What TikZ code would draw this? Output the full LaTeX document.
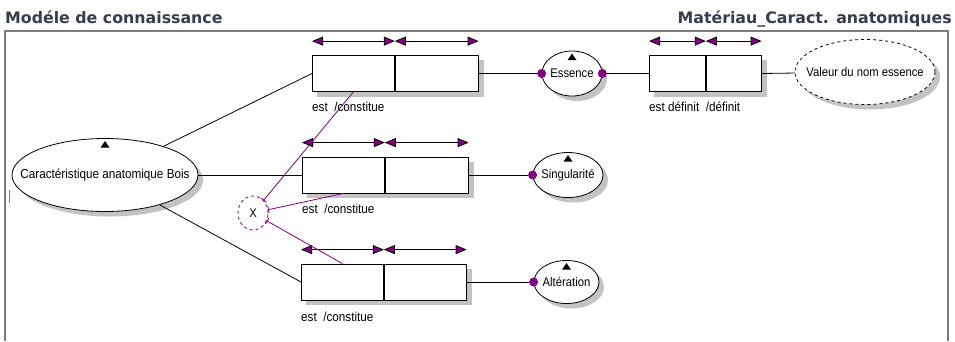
\documentclass[tikz,border=0pt]{standalone}
\usepackage{fontspec}
\setmainfont{Liberation Sans}[FakeStretch=0.9]
\newfontfamily\titlefont{DejaVu Sans}
\usetikzlibrary{shapes.geometric,arrows.meta,backgrounds}
\definecolor{violetd}{RGB}{128,0,128}
\definecolor{framegray}{RGB}{125,125,125}
\definecolor{titlecol}{RGB}{55,60,78}
\definecolor{shadowc}{RGB}{195,195,195}
\newcommand\enttri[1]{\fill ([yshift=-3pt]#1.north) -- ++(-4.5,6.5) -- ++(9,0) -- cycle;}
\newcommand\entshadow[3]{\fill[shadowc] ([shift={(5pt,-5pt)}]#1.center) ellipse [x radius=#2, y radius=#3];}
\newcommand\boxshadow[2]{\fill[shadowc] ([shift={(5pt,-5pt)}]#1.north west) rectangle ([shift={(5pt,-5pt)}]#2.south east);}
\begin{document}
\begin{tikzpicture}[x=1pt,y=-1pt,
  font=\fontsize{12.5}{14}\selectfont,
  entity/.style={ellipse,draw,fill=white,inner sep=0pt,line width=0.8pt},
  relbox/.style={rectangle,draw,fill=white,inner sep=0pt,minimum height=36pt,anchor=west,line width=0.8pt},
  lnk/.style={draw,line width=0.8pt},
  xlnk/.style={draw=violetd,line width=0.8pt,-{Bar[width=7pt,line width=0.8pt]}},
  pairarrow/.style={line width=0.8pt,{Triangle[length=11pt,width=9pt,fill=violetd]}-{Triangle[length=11pt,width=9pt,fill=violetd]}},
  pdot/.style={circle,fill=violetd,inner sep=0pt,minimum size=9pt},
  lab/.style={anchor=base west,inner sep=0pt,font=\fontsize{13}{15}\selectfont},
  headtxt/.style={font=\titlefont\bfseries\fontsize{15.8}{19}\selectfont,text=titlecol,inner sep=0pt}
]
\useasboundingbox (0,0) rectangle (955,341);

% titles and frame
\node[headtxt,anchor=base west] (t1) at (5,23) {Modéle de connaissance};
\node[headtxt,anchor=base east] (t2) at (952,23) {Matériau\_Caract. anatomiques};
\draw[framegray,line width=2.4pt] (5,341) -- (5,31) -- (948,31) -- (948,341);
\draw[gray,line width=1pt] (9,190) -- (9,203);

% entities
\node[entity,minimum width=186pt,minimum height=73pt,label={[font=\fontsize{13}{15}\selectfont]center:Caractéristique anatomique Bois}] (bois) at (105,175) {};
\node[entity,minimum width=60pt,minimum height=45pt,label={center:Essence}] (ess) at (572,73.5) {};
\node[entity,minimum width=70pt,minimum height=45pt,label={center:Singularité}] (sing) at (568,175) {};
\node[entity,minimum width=65pt,minimum height=43pt,label={center:Altération}] (alt) at (566.5,282) {};
\node[entity,dashed,minimum width=140pt,minimum height=65pt,label={center:Valeur du nom essence}] (val) at (865,72) {};
\node[ellipse,draw=violetd,dashed,line width=0.8pt,minimum width=30pt,minimum height=34pt,inner sep=0pt] (X) at (253,213) {X};

\enttri{bois}
\enttri{ess}
\enttri{sing}
\enttri{alt}

% relation boxes
\node[relbox,minimum width=82pt] (r1a) at (312,73.5) {};
\node[relbox,minimum width=83pt] (r1b) at (r1a.east) {};
\node[relbox,minimum width=82pt] (r2a) at (302,175) {};
\node[relbox,minimum width=83pt] (r2b) at (r2a.east) {};
\node[relbox,minimum width=82pt] (r4a) at (301,282) {};
\node[relbox,minimum width=82pt] (r4b) at (r4a.east) {};
\node[relbox,minimum width=56pt] (r3a) at (649,73.5) {};
\node[relbox,minimum width=55pt] (r3b) at (r3a.east) {};

% shadows
\begin{scope}[on background layer]
\entshadow{bois}{93}{36.5}
\entshadow{ess}{30}{22.5}
\entshadow{sing}{35}{22.5}
\entshadow{alt}{32.5}{21.5}
\entshadow{val}{70}{32.5}
\boxshadow{r1a}{r1b}
\boxshadow{r2a}{r2b}
\boxshadow{r4a}{r4b}
\boxshadow{r3a}{r3b}
\end{scope}

% role arrows
\draw[pairarrow] ([yshift=14pt]r1a.north west) -- ([yshift=14pt]r1a.north east);
\draw[pairarrow] ([yshift=14pt]r1b.north west) -- ([yshift=14pt]r1b.north east);
\draw[pairarrow] ([yshift=14pt]r2a.north west) -- ([yshift=14pt]r2a.north east);
\draw[pairarrow] ([yshift=14pt]r2b.north west) -- ([yshift=14pt]r2b.north east);
\draw[pairarrow] ([yshift=14pt]r4a.north west) -- ([yshift=14pt]r4a.north east);
\draw[pairarrow] ([yshift=14pt]r4b.north west) -- ([yshift=14pt]r4b.north east);
\draw[pairarrow] ([yshift=14pt]r3a.north west) -- ([yshift=14pt]r3a.north east);
\draw[pairarrow] ([yshift=14pt]r3b.north west) -- ([yshift=14pt]r3b.north east);

% labels
\node[lab] (l1) at ([yshift=-20pt]r1a.south west) {est \ /constitue};
\node[lab] (l2) at ([yshift=-20pt]r2a.south west) {est \ /constitue};
\node[lab] (l4) at ([yshift=-21pt]r4a.south west) {est \ /constitue};
\node[lab] (l3) at ([yshift=-20pt]r3a.south west) {est définit \ /définit};

% connectors
\node[pdot] (dE1) at (ess.west) {};
\node[pdot] (dE2) at (ess.east) {};
\node[pdot] (dS) at (sing.west) {};
\node[pdot] (dA) at (alt.west) {};

\draw[lnk] (bois) -- (r1a.west);
\draw[lnk] (bois) -- (r2a.west);
\draw[lnk] (bois) -- (r4a.west);
\draw[lnk] (r1b.east) -- (dE1);
\draw[lnk] (dE2) -- (r3a.west);
\draw[lnk] (r3b.east) -- (val);
\draw[lnk] (r2b.east) -- (dS);
\draw[lnk] (r4b.east) -- (dA);

\draw[xlnk] (r1a.south) -- (X);
\draw[xlnk] (r2a.south) -- (X);
\draw[xlnk] (r4a.north) -- (X);
\end{tikzpicture}
\end{document}
